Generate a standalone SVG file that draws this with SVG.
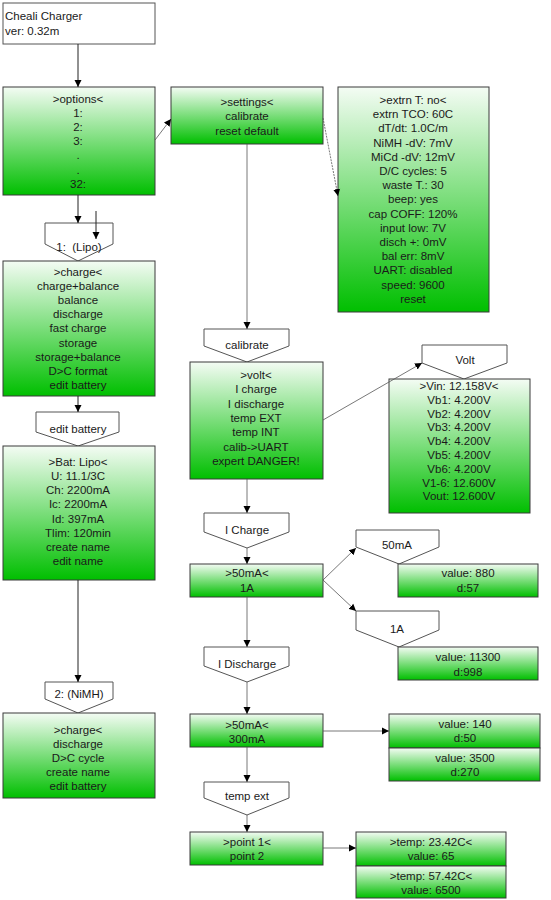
<svg xmlns="http://www.w3.org/2000/svg" width="551" height="900" viewBox="0 0 551 900">
<style>
text{font-family:"Liberation Sans",Arial,sans-serif;font-size:11.5px;fill:#1a1a1a}
.c{text-anchor:middle}
.box{fill:url(#g);stroke:#3a3a3a;stroke-width:1}
.plain{fill:#fff;stroke:#555;stroke-width:1}
.lab{fill:#fff;stroke:#555;stroke-width:1}
.ln{fill:none;stroke:#222;stroke-width:1}
.gl{fill:none;stroke:#555;stroke-width:0.8}
</style>
<defs>
<linearGradient id="g" x1="0" y1="0" x2="0" y2="1">
<stop offset="0" stop-color="#f4fcf4"/>
<stop offset="1" stop-color="#00bf00"/>
</linearGradient>
<marker id="a" markerWidth="8" markerHeight="8" refX="7" refY="4" orient="auto" markerUnits="userSpaceOnUse">
<path d="M0,0.5 L7,4 L0,7.5 Z" fill="#000"/>
</marker>
</defs>

<g id="title">
<rect class="plain" x="3" y="3" width="152" height="41"/>
<text x="5" y="20">Cheali Charger</text>
<text x="5" y="35">ver: 0.32m</text>
</g>

<g id="options">
<rect class="box" x="3" y="87" width="152" height="108"/>
<text class="c" x="78" y="103"><tspan x="78">&gt;options&lt;</tspan><tspan x="78" dy="14.1">1:</tspan><tspan x="78" dy="14.1">2:</tspan><tspan x="78" dy="14.1">3:</tspan><tspan x="78" dy="14.1">.</tspan><tspan x="78" dy="14.1">.</tspan><tspan x="78" dy="14.1">32:</tspan></text>
</g>

<g id="settings">
<rect class="box" x="171" y="87" width="152" height="57"/>
<text class="c" x="247" y="106"><tspan x="247">&gt;settings&lt;</tspan><tspan x="247" dy="14.4">calibrate</tspan><tspan x="247" dy="14.4">reset default</tspan></text>
</g>

<g id="settings-values">
<rect class="box" x="338" y="87" width="151" height="225"/>
<text class="c" x="413" y="104"><tspan x="413">&gt;extrn T: no&lt;</tspan><tspan x="413" dy="14.2">extrn TCO: 60C</tspan><tspan x="413" dy="14.2">dT/dt: 1.0C/m</tspan><tspan x="413" dy="14.2">NiMH -dV: 7mV</tspan><tspan x="413" dy="14.2">MiCd -dV: 12mV</tspan><tspan x="413" dy="14.2">D/C cycles: 5</tspan><tspan x="413" dy="14.2">waste T.: 30</tspan><tspan x="413" dy="14.2">beep: yes</tspan><tspan x="413" dy="14.2">cap COFF: 120%</tspan><tspan x="413" dy="14.2">input low: 7V</tspan><tspan x="413" dy="14.2">disch +: 0mV</tspan><tspan x="413" dy="14.2">bal err: 8mV</tspan><tspan x="413" dy="14.2">UART: disabled</tspan><tspan x="413" dy="14.2">speed: 9600</tspan><tspan x="413" dy="14.2">reset</tspan></text>
</g>

<g id="label-lipo">
<path class="lab" d="M45,223 L113,223 L113,244 L78,261 L45,244 Z"/>
<text class="c" x="79" y="251" style="white-space:pre">1:  (Lipo)</text>
</g>

<g id="charge-lipo">
<rect class="box" x="3" y="261" width="152" height="135"/>
<text class="c" x="78" y="276"><tspan x="78">&gt;charge&lt;</tspan><tspan x="78" dy="14.1">charge+balance</tspan><tspan x="78" dy="14.1">balance</tspan><tspan x="78" dy="14.1">discharge</tspan><tspan x="78" dy="14.1">fast charge</tspan><tspan x="78" dy="14.1">storage</tspan><tspan x="78" dy="14.1">storage+balance</tspan><tspan x="78" dy="14.1">D&gt;C format</tspan><tspan x="78" dy="14.1">edit battery</tspan></text>
</g>

<g id="label-edit">
<path class="lab" d="M36,412 L119,412 L119,432 L78,446 L36,432 Z"/>
<text class="c" x="78" y="433">edit battery</text>
</g>

<g id="battery">
<rect class="box" x="3" y="446" width="152" height="134"/>
<text class="c" x="78" y="466"><tspan x="78">&gt;Bat: Lipo&lt;</tspan><tspan x="78" dy="14.15">U: 11.1/3C</tspan><tspan x="78" dy="14.15">Ch: 2200mA</tspan><tspan x="78" dy="14.15">Ic: 2200mA</tspan><tspan x="78" dy="14.15">Id: 397mA</tspan><tspan x="78" dy="14.15">Tlim: 120min</tspan><tspan x="78" dy="14.15">create name</tspan><tspan x="78" dy="14.15">edit name</tspan></text>
</g>

<g id="label-nimh">
<path class="lab" d="M45,682 L113,682 L113,699 L78,713 L45,699 Z"/>
<text class="c" x="79" y="698">2: (NiMH)</text>
</g>

<g id="charge-nimh">
<rect class="box" x="3" y="713" width="152" height="85"/>
<text class="c" x="78" y="734"><tspan x="78">&gt;charge&lt;</tspan><tspan x="78" dy="14">discharge</tspan><tspan x="78" dy="14">D&gt;C cycle</tspan><tspan x="78" dy="14">create name</tspan><tspan x="78" dy="14">edit battery</tspan></text>
</g>

<g id="label-calibrate">
<path class="lab" d="M204,329 L289,329 L289,346 L247,362 L204,346 Z"/>
<text class="c" x="247" y="349">calibrate</text>
</g>

<g id="calibrate">
<rect class="box" x="190" y="362" width="133" height="117"/>
<text class="c" x="256" y="379"><tspan x="256">&gt;volt&lt;</tspan><tspan x="256" dy="14.3">I charge</tspan><tspan x="256" dy="14.3">I discharge</tspan><tspan x="256" dy="14.3">temp EXT</tspan><tspan x="256" dy="14.3">temp INT</tspan><tspan x="256" dy="14.3">calib-&gt;UART</tspan><tspan x="256" dy="14.3">expert DANGER!</tspan></text>
</g>

<g id="label-volt">
<path class="lab" d="M422,345 L507,345 L507,363 L464,379 L422,363 Z"/>
<text class="c" x="465" y="364">Volt</text>
</g>

<g id="volt">
<rect class="box" x="389" y="379" width="141" height="134"/>
<text class="c" x="459" y="390"><tspan x="459">&gt;Vin: 12.158V&lt;</tspan><tspan x="459" dy="13.8">Vb1: 4.200V</tspan><tspan x="459" dy="13.8">Vb2: 4.200V</tspan><tspan x="459" dy="13.8">Vb3: 4.200V</tspan><tspan x="459" dy="13.8">Vb4: 4.200V</tspan><tspan x="459" dy="13.8">Vb5: 4.200V</tspan><tspan x="459" dy="13.8">Vb6: 4.200V</tspan><tspan x="459" dy="13.8">V1-6: 12.600V</tspan><tspan x="459" dy="13.8">Vout: 12.600V</tspan></text>
</g>

<g id="label-icharge">
<path class="lab" d="M204,513 L289,513 L289,532 L247,548 L204,532 Z"/>
<text class="c" x="247" y="534">I Charge</text>
</g>

<g id="icharge">
<rect class="box" x="190" y="564" width="133" height="33"/>
<text class="c" x="247" y="577"><tspan x="247">&gt;50mA&lt;</tspan><tspan x="247" dy="14.5">1A</tspan></text>
</g>

<g id="label-50ma">
<path class="lab" d="M356,530 L439,530 L439,547 L399,564 L356,547 Z"/>
<text class="c" x="397" y="549">50mA</text>
</g>

<g id="value-880">
<rect class="box" x="398" y="564" width="140" height="33"/>
<text class="c" x="468" y="577"><tspan x="468">value: 880</tspan><tspan x="468" dy="14.5">d:57</tspan></text>
</g>

<g id="label-1a">
<path class="lab" d="M356,611 L439,611 L439,630 L399,647 L356,630 Z"/>
<text class="c" x="397" y="633">1A</text>
</g>

<g id="value-11300">
<rect class="box" x="398" y="647" width="140" height="33"/>
<text class="c" x="468" y="661"><tspan x="468">value: 11300</tspan><tspan x="468" dy="14.5">d:998</tspan></text>
</g>

<g id="label-idischarge">
<path class="lab" d="M204,647 L289,647 L289,666 L247,682 L204,666 Z"/>
<text class="c" x="247" y="668">I Discharge</text>
</g>

<g id="idischarge">
<rect class="box" x="190" y="714" width="133" height="33"/>
<text class="c" x="247" y="729"><tspan x="247">&gt;50mA&lt;</tspan><tspan x="247" dy="14">300mA</tspan></text>
</g>

<g id="value-140">
<rect class="box" x="389" y="714" width="151" height="34"/>
<text class="c" x="465" y="728"><tspan x="465">value: 140</tspan><tspan x="465" dy="14">d:50</tspan></text>
</g>

<g id="value-3500">
<rect class="box" x="389" y="748" width="151" height="33"/>
<text class="c" x="465" y="762"><tspan x="465">value: 3500</tspan><tspan x="465" dy="13.5">d:270</tspan></text>
</g>

<g id="label-tempext">
<path class="lab" d="M204,782 L289,782 L289,798 L247,815 L204,798 Z"/>
<text class="c" x="247" y="800">temp ext</text>
</g>

<g id="tempext">
<rect class="box" x="190" y="832" width="133" height="33"/>
<text class="c" x="247" y="846"><tspan x="247">&gt;point 1&lt;</tspan><tspan x="247" dy="14">point 2</tspan></text>
</g>

<g id="temp-1">
<rect class="box" x="356" y="832" width="150" height="34"/>
<text class="c" x="431" y="846"><tspan x="431">&gt;temp: 23.42C&lt;</tspan><tspan x="431" dy="14">value: 65</tspan></text>
</g>

<g id="temp-2">
<rect class="box" x="356" y="866" width="150" height="32"/>
<text class="c" x="431" y="880"><tspan x="431">&gt;temp: 57.42C&lt;</tspan><tspan x="431" dy="13.5">value: 6500</tspan></text>
</g>

<g id="connectors">
<line class="ln" x1="78" y1="44" x2="78" y2="87" marker-end="url(#a)"/>
<line class="ln" x1="78" y1="195" x2="78" y2="223" marker-end="url(#a)"/>
<line class="ln" x1="96" y1="211" x2="96" y2="239" marker-end="url(#a)"/>
<line class="gl" x1="155" y1="140" x2="171" y2="119" marker-end="url(#a)"/>
<line class="gl" x1="323" y1="118" x2="338" y2="196" stroke-dasharray="2,1" marker-end="url(#a)"/>
<line class="ln" x1="78" y1="396" x2="78" y2="412" marker-end="url(#a)"/>
<line class="ln" x1="78" y1="580" x2="78" y2="682" marker-end="url(#a)"/>
<line class="gl" x1="247" y1="144" x2="247" y2="329" marker-end="url(#a)"/>
<line class="gl" x1="323" y1="420" x2="422" y2="363" marker-end="url(#a)"/>
<line class="gl" x1="247" y1="479" x2="247" y2="513" marker-end="url(#a)"/>
<line class="gl" x1="247" y1="548" x2="247" y2="564" marker-end="url(#a)"/>
<line class="gl" x1="323" y1="580" x2="356" y2="548" marker-end="url(#a)"/>
<line class="gl" x1="323" y1="580" x2="356" y2="611" marker-end="url(#a)"/>
<line class="gl" x1="247" y1="597" x2="247" y2="647" marker-end="url(#a)"/>
<line class="gl" x1="247" y1="682" x2="247" y2="714" marker-end="url(#a)"/>
<line class="gl" x1="323" y1="731" x2="389" y2="731" marker-end="url(#a)"/>
<line class="gl" x1="247" y1="747" x2="247" y2="782" marker-end="url(#a)"/>
<line class="gl" x1="247" y1="815" x2="247" y2="832" marker-end="url(#a)"/>
<line class="gl" x1="323" y1="848" x2="356" y2="848" marker-end="url(#a)"/>
</g>
</svg>
